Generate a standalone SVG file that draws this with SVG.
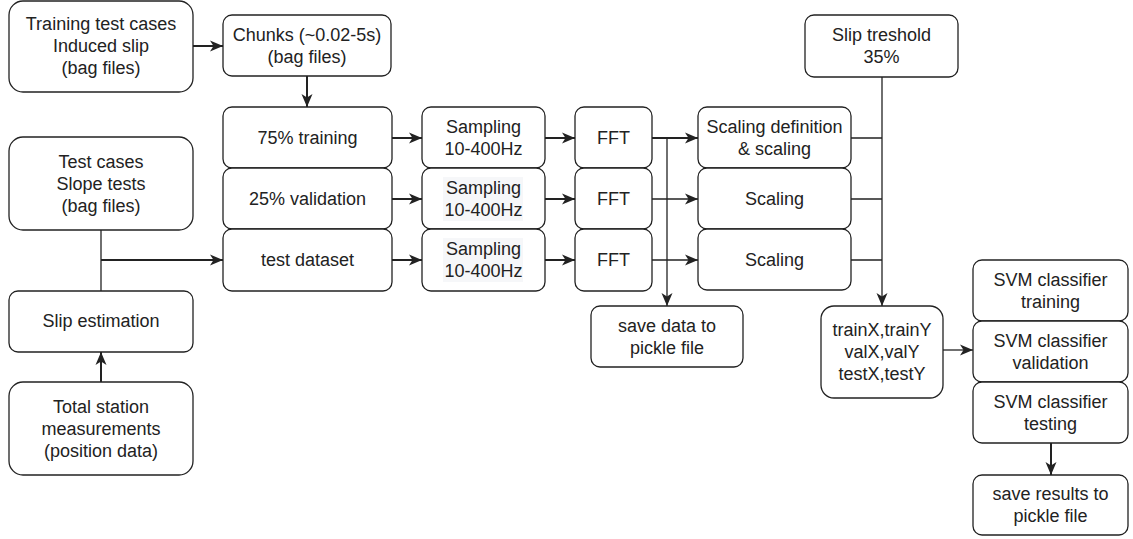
<svg xmlns="http://www.w3.org/2000/svg" width="1133" height="539" viewBox="0 0 1133 539">
<defs>
<style>
.box{fill:#fff;stroke:#222;stroke-width:1.3}
.t{font-family:"Liberation Sans",Arial,sans-serif;font-size:18px;fill:#222;text-anchor:middle;dominant-baseline:central}
.e{fill:none;stroke:#222;stroke-width:2}
.l{fill:none;stroke:#222;stroke-width:1.3}
.hl{fill:#f6f7f9}
</style>
<marker id="arr" markerUnits="userSpaceOnUse" markerWidth="14" markerHeight="12" refX="13" refY="6" orient="auto">
<path d="M0,0.5 L13,6 L0,11.5 L3.5,6 Z" fill="#222"/>
</marker>
</defs>
<g id="connectors">
<path class="e" d="M193,46 H223" marker-end="url(#arr)"/>
<path class="e" d="M307,76 V107" marker-end="url(#arr)"/>
<path class="l" d="M101,230 V291"/>
<path class="e" d="M101,260 H223" marker-end="url(#arr)"/>
<path class="e" d="M101,382 V352" marker-end="url(#arr)"/>
<path class="e" d="M392,138 H422" marker-end="url(#arr)"/>
<path class="e" d="M392,199 H422" marker-end="url(#arr)"/>
<path class="e" d="M392,260 H422" marker-end="url(#arr)"/>
<path class="e" d="M545,138 H575" marker-end="url(#arr)"/>
<path class="e" d="M545,199 H575" marker-end="url(#arr)"/>
<path class="e" d="M545,260 H575" marker-end="url(#arr)"/>
<path class="e" d="M652,138 H698" marker-end="url(#arr)"/>
<path class="l" d="M652,199 H698" marker-end="url(#arr)"/>
<path class="l" d="M652,260 H698" marker-end="url(#arr)"/>
<path class="l" d="M667,138 V306" marker-end="url(#arr)"/>
<path class="l" d="M882,77 V306" marker-end="url(#arr)"/>
<path class="l" d="M851,138 H882 M851,199 H882 M851,260 H882"/>
<path class="l" d="M943,350 H973" marker-end="url(#arr)"/>
<path class="e" d="M1051,443 V475" marker-end="url(#arr)"/>
</g>
<g id="n-training-cases"><rect class="box" x="9" y="1" width="184" height="91" rx="14"/><text class="t" x="101" y="24">Training test cases</text><text class="t" x="101" y="46">Induced slip</text><text class="t" x="101" y="68">(bag files)</text></g>
<g id="n-chunks"><rect class="box" x="223" y="15" width="168" height="61" rx="9"/><text class="t" x="307" y="35">Chunks (~0.02-5s)</text><text class="t" x="307" y="57">(bag files)</text></g>
<g id="n-test-cases"><rect class="box" x="9" y="137" width="184" height="93" rx="14"/><text class="t" x="101" y="162">Test cases</text><text class="t" x="101" y="184">Slope tests</text><text class="t" x="101" y="206">(bag files)</text></g>
<g id="n-slip-est"><rect class="box" x="9" y="291" width="184" height="61" rx="9"/><text class="t" x="101" y="321">Slip estimation</text></g>
<g id="n-total-station"><rect class="box" x="9" y="382" width="184" height="93" rx="14"/><text class="t" x="101" y="407">Total station</text><text class="t" x="101" y="429">measurements</text><text class="t" x="101" y="451">(position data)</text></g>
<g id="n-train75"><rect class="box" x="223" y="107" width="169" height="61" rx="9"/><text class="t" x="307.5" y="138">75% training</text></g>
<g id="n-val25"><rect class="box" x="223" y="168" width="169" height="61" rx="9"/><text class="t" x="307.5" y="199">25% validation</text></g>
<g id="n-testds"><rect class="box" x="223" y="229" width="169" height="62" rx="9"/><text class="t" x="307.5" y="260">test dataset</text></g>
<g id="n-samp1"><rect class="box" x="422" y="107" width="123" height="61" rx="9"/><text class="t" x="483.5" y="127">Sampling</text><text class="t" x="483.5" y="149">10-400Hz</text></g>
<g id="n-samp2"><rect class="box" x="422" y="168" width="123" height="61" rx="9"/><rect class="hl" x="443" y="177" width="80" height="44"/><text class="t" x="483.5" y="188">Sampling</text><text class="t" x="483.5" y="210">10-400Hz</text></g>
<g id="n-samp3"><rect class="box" x="422" y="229" width="123" height="62" rx="9"/><rect class="hl" x="443" y="238" width="80" height="44"/><text class="t" x="483.5" y="249">Sampling</text><text class="t" x="483.5" y="271">10-400Hz</text></g>
<g id="n-fft1"><rect class="box" x="575" y="107" width="77" height="61" rx="9"/><text class="t" x="613.5" y="138">FFT</text></g>
<g id="n-fft2"><rect class="box" x="575" y="168" width="77" height="61" rx="9"/><text class="t" x="613.5" y="199">FFT</text></g>
<g id="n-fft3"><rect class="box" x="575" y="229" width="77" height="62" rx="9"/><text class="t" x="613.5" y="260">FFT</text></g>
<g id="n-scaledef"><rect class="box" x="698" y="107" width="153" height="61" rx="9"/><text class="t" x="774.5" y="127">Scaling definition</text><text class="t" x="774.5" y="149">&amp; scaling</text></g>
<g id="n-scale2"><rect class="box" x="698" y="168" width="153" height="61" rx="9"/><text class="t" x="774.5" y="199">Scaling</text></g>
<g id="n-scale3"><rect class="box" x="698" y="229" width="153" height="61" rx="9"/><text class="t" x="774.5" y="260">Scaling</text></g>
<g id="n-savedata"><rect class="box" x="591" y="306" width="152" height="61" rx="9"/><text class="t" x="667" y="326">save data to</text><text class="t" x="667" y="348">pickle file</text></g>
<g id="n-slipthr"><rect class="box" x="805" y="15" width="153" height="62" rx="9"/><text class="t" x="881.5" y="35">Slip treshold</text><text class="t" x="881.5" y="57">35%</text></g>
<g id="n-datasets"><rect class="box" x="821" y="306" width="122" height="92" rx="13"/><text class="t" x="882" y="330">trainX,trainY</text><text class="t" x="882" y="352">valX,valY</text><text class="t" x="882" y="374">testX,testY</text></g>
<g id="n-svm-train"><rect class="box" x="973" y="260" width="155" height="61" rx="9"/><text class="t" x="1050.5" y="280">SVM classifier</text><text class="t" x="1050.5" y="302">training</text></g>
<g id="n-svm-val"><rect class="box" x="973" y="321" width="155" height="61" rx="9"/><text class="t" x="1050.5" y="341">SVM classifier</text><text class="t" x="1050.5" y="363">validation</text></g>
<g id="n-svm-test"><rect class="box" x="973" y="382" width="155" height="61" rx="9"/><text class="t" x="1050.5" y="402">SVM classifier</text><text class="t" x="1050.5" y="424">testing</text></g>
<g id="n-saveres"><rect class="box" x="973" y="475" width="155" height="60" rx="9"/><text class="t" x="1050.5" y="494">save results to</text><text class="t" x="1050.5" y="516">pickle file</text></g>
</svg>
